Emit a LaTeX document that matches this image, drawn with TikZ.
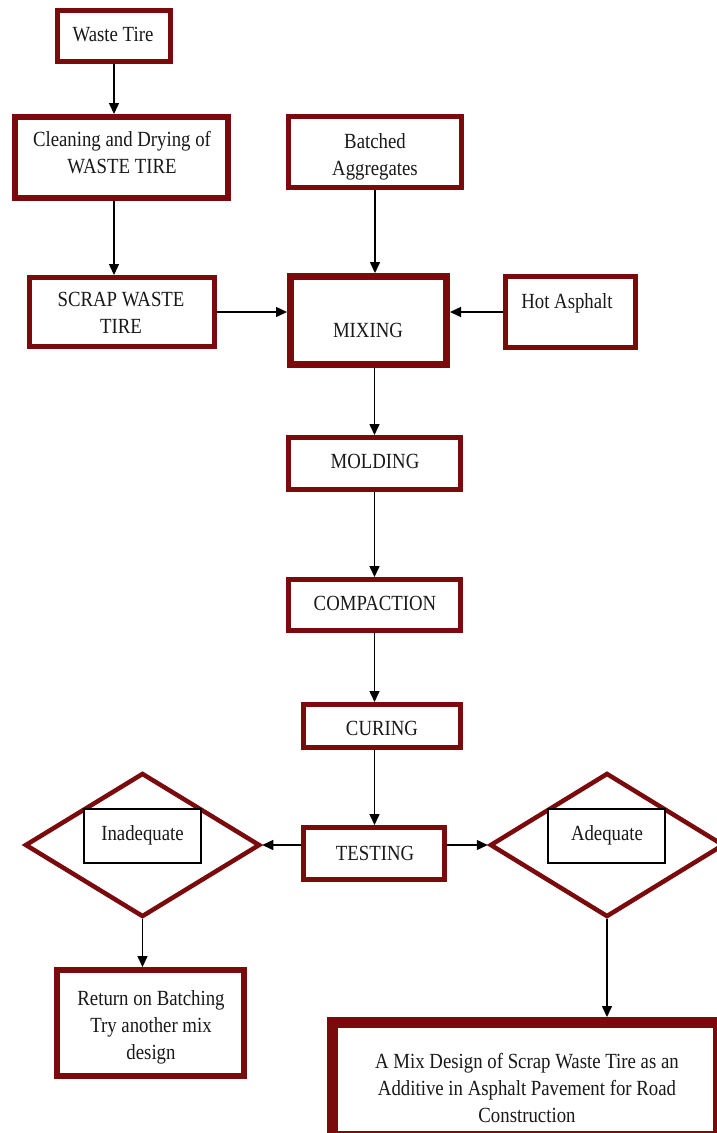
\documentclass[tikz,border=0pt]{standalone}
\usepackage{fontspec}
\setmainfont{Liberation Serif}[FakeStretch=0.87]
\usetikzlibrary{arrows.meta,shapes.geometric,calc}
\definecolor{dred}{RGB}{122,10,12}
\newcommand\mkbox[6]{%
  \pgfmathsetmacro\mybw{#4-#2-#6}%
  \pgfmathsetmacro\mybh{#5-#3-#6}%
  \pgfmathsetmacro\mycx{(#2+#4)/2}%
  \pgfmathsetmacro\mycy{(#3+#5)/2}%
  \node[fbox, line width=#6pt, minimum width=\mybw pt, minimum height=\mybh pt] (#1) at (\mycx,\mycy) {};}
\begin{document}
\begin{tikzpicture}[x=1pt,y=-1pt,
  fbox/.style={draw=dred, rectangle, inner sep=0pt, fill=white},
  dia/.style={draw=dred, diamond, line width=4.5pt, inner sep=0pt, fill=white},
  ibox/.style={draw=black, line width=1.5pt, fill=white},
  txt/.style={font=\fontsize{21.6}{27}\selectfont, align=center, inner sep=0pt, text=black!90},
  arr/.style={draw=black, line width=1.5pt, -{Triangle[length=11pt,width=10pt]}}]
\useasboundingbox (0,0) rectangle (716,1133);
\fill[white] (0,0) rectangle (716,1133);

% boxes
\mkbox{wt}{55}{8}{173}{64}{5}
\mkbox{clean}{12}{114}{231}{201}{6}
\mkbox{batch}{286}{114}{464}{190}{5}
\mkbox{scrap}{27}{275}{217}{349}{5}
\mkbox{mix}{287}{273}{450}{368}{7}
\mkbox{hot}{503}{274}{638}{350}{5}
\mkbox{mold}{286}{435}{463}{492}{5}
\mkbox{comp}{286}{577}{463}{633}{5}
\mkbox{cure}{301}{702}{463}{750}{5}
\mkbox{test}{301}{825}{447}{882}{5}
\mkbox{ret}{54}{967}{247}{1079}{6}
\mkbox{fin}{327}{1017}{724}{1142}{11}

% decisions
\node[dia, minimum width=235pt, minimum height=144pt] (inad) at (142.5,845) {};
\node[dia, minimum width=234pt, minimum height=144pt] (adeq) at (607,845) {};
\node[ibox, minimum width=117pt, minimum height=54pt] (inadb) at (142.5,836) {};
\node[ibox, minimum width=117pt, minimum height=54pt] (adeqb) at (606.5,836) {};

% texts
\node[txt, anchor=base] (twt) at (113,41) {Waste Tire};
\node[txt] (tclean) at (122,153) {Cleaning and Drying of\\WASTE TIRE};
\node[txt] (tbatch) at (375,156.5) {Batched\\Aggregates};
\node[txt] (tscrap) at (121,313) {SCRAP WASTE\\TIRE};
\node[txt, anchor=base] (tmix) at (368,337) {MIXING};
\node[txt, anchor=base] (thot) at (567,308) {Hot Asphalt};
\node[txt, anchor=base] (tmold) at (375,468) {MOLDING};
\node[txt, anchor=base] (tcomp) at (375,610) {COMPACTION};
\node[txt, anchor=base] (tcure) at (382,735) {CURING};
\node[txt, anchor=base] (ttest) at (375,860) {TESTING};
\node[txt, anchor=base] (tinad) at (142.5,840) {Inadequate};
\node[txt, anchor=base] (tadeq) at (607,840) {Adequate};
\node[txt] (tret) at (151,1027) {Return on Batching\\Try another mix\\design};
\node[txt] (tfin) at (527,1087.5) {A Mix Design of Scrap Waste Tire as an\\Additive in Asphalt Pavement for Road\\Construction};

% connectors
\coordinate (c1) at ($(clean.south)+(-7.5,0)$);
\draw[arr] (wt.south) -- (wt.south |- clean.north);
\draw[arr] (c1) -- (c1 |- scrap.north);
\draw[arr] (batch.south) -- (batch.south |- mix.north);
\draw[arr] (scrap.east) -- (scrap.east -| mix.west);
\draw[arr] (hot.west) -- (hot.west -| mix.east);
\draw[arr] (mold.north |- mix.south) -- (mold.north);
\draw[arr] (mold.south) -- (comp.north);
\draw[arr] (comp.south) -- (comp.south |- cure.north);
\draw[arr] (comp.south |- cure.south) -- (comp.south |- test.north);
\draw[arr] (test.west |- inad.east) -- (inad.east);
\draw[arr] (test.east |- adeq.west) -- (adeq.west);
\draw[arr] (inad.south) -- (inad.south |- ret.north);
\draw[arr] (adeq.south) -- (adeq.south |- fin.north);
\end{tikzpicture}
\end{document}
